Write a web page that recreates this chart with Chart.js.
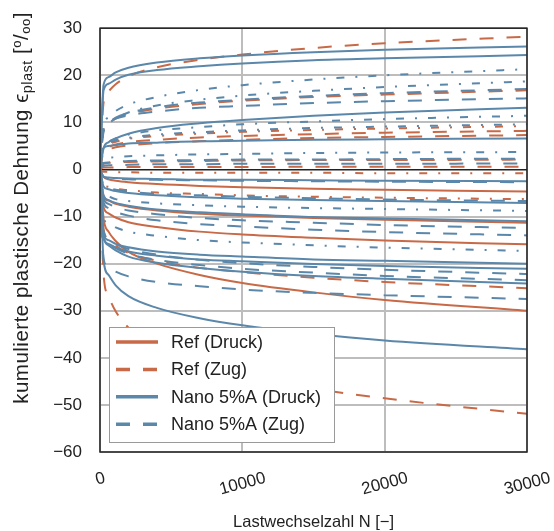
<!DOCTYPE html>
<html>
<head>
<meta charset="utf-8">
<script src="https://cdn.jsdelivr.net/npm/chart.js@4"></script>
<style>
  body { margin: 0; background: #fff; }
  canvas { display: block; }
</style>
</head>
<body>
<canvas id="dehnungChart" width="554" height="531"></canvas>
<script>
// Lastwechselzahl N (x-Werte)
const lastwechselzahl = [0, 250, 600, 1100, 2000, 4000, 7000, 10000, 15000, 20000, 30000];

// Ref (Druck) - orange, durchgezogen
const refDruck = [
    [0, -1.6, -2.1, -2.4, -2.7, -3.1, -3.5, -3.8, -4.1, -4.3, -4.7],
    [0, -5.7, -6.6, -7.3, -7.9, -8.7, -9.4, -9.8, -10.3, -10.7, -11.3],
    [0, -8.0, -9.3, -10.2, -11.2, -12.2, -13.2, -13.8, -14.5, -15.1, -15.9],
    [0, -10.4, -13.2, -15.2, -17.5, -20.0, -22.4, -24.1, -26.1, -27.7, -30.0]
];

// Ref (Zug) - orange, gestrichelt
const refZug = [
    [0, 14.2, 16.6, 18.1, 19.8, 21.7, 23.3, 24.4, 25.8, 26.8, 28.2],
    [0, 8.4, 9.9, 10.8, 11.8, 12.9, 13.9, 14.6, 15.4, 15.9, 16.8],
    [0, 4.1, 4.8, 5.3, 5.8, 6.3, 6.8, 7.1, 7.5, 7.8, 8.2],
    [0, 3.7, 4.3, 4.7, 5.1, 5.6, 6.0, 6.3, 6.7, 6.9, 7.3],
    [0, 1.2, 1.4, 1.5, 1.6, 1.7, 1.8, 1.9, 2.0, 2.0, 2.1],
    [0, 0.4, 0.4, 0.4, 0.5, 0.5, 0.5, 0.5, 0.6, 0.6, 0.6],
    [0, -12.7, -14.8, -16.2, -17.7, -19.4, -20.9, -21.8, -23.0, -23.9, -25.2],
    [0, -22.2, -26.9, -30.1, -33.6, -37.6, -41.1, -43.5, -46.5, -48.6, -51.9]
];

// weitere Ref-Kurven (strichpunktiert)
const refZugStrichpunkt = [
    [0, 4.6, 5.4, 5.9, 6.5, 7.1, 7.6, 8.0, 8.4, 8.7, 9.2],
    [0, -0.5, -0.5, -0.6, -0.6, -0.7, -0.7, -0.7, -0.7, -0.8, -0.8],
    [0, -3.2, -3.7, -4.1, -4.4, -4.9, -5.2, -5.5, -5.8, -6.0, -6.3]
];

// Nano 5%A (Druck) - blau, durchgezogen
const nanoDruck = [
    [0, 18.0, 19.6, 20.6, 21.6, 22.7, 23.6, 24.2, 24.9, 25.4, 26.1],
    [0, 16.8, 18.2, 19.1, 20.1, 21.1, 21.9, 22.5, 23.2, 23.6, 24.3],
    [0, 4.5, 5.8, 6.6, 7.6, 8.8, 9.8, 10.5, 11.4, 12.1, 13.1],
    [0, 4.6, 5.0, 5.2, 5.5, 5.7, 6.0, 6.1, 6.3, 6.4, 6.6],
    [0, -1.5, -1.7, -1.8, -1.9, -2.0, -2.2, -2.2, -2.3, -2.4, -2.5],
    [0, -3.6, -4.2, -4.6, -5.0, -5.5, -5.9, -6.2, -6.5, -6.7, -7.1],
    [0, -5.5, -6.5, -7.1, -7.7, -8.5, -9.1, -9.5, -10.1, -10.4, -11.0],
    [0, -13.8, -15.0, -15.8, -16.5, -17.4, -18.1, -18.5, -19.1, -19.4, -20.0],
    [0, -14.6, -15.8, -16.6, -17.4, -18.3, -19.1, -19.5, -20.1, -20.5, -21.1],
    [0, -14.3, -16.1, -17.2, -18.5, -19.8, -20.9, -21.7, -22.6, -23.2, -24.2],
    [0, -19.2, -22.4, -24.6, -26.9, -29.4, -31.6, -33.1, -34.9, -36.3, -38.2]
];

// Nano 5%A (Zug) - blau, gestrichelt
const nanoZug = [
    [0, 8.6, 10.0, 11.0, 12.0, 13.2, 14.2, 14.8, 15.6, 16.2, 17.1],
    [0, 8.9, 10.0, 10.8, 11.5, 12.3, 13.1, 13.5, 14.1, 14.5, 15.1],
    [0, 1.4, 1.5, 1.6, 1.8, 1.9, 2.0, 2.1, 2.1, 2.2, 2.3],
    [0, 0.8, 0.9, 0.9, 1.0, 1.1, 1.1, 1.2, 1.2, 1.2, 1.3],
    [0, -1.6, -1.8, -1.9, -2.1, -2.2, -2.3, -2.4, -2.5, -2.6, -2.7],
    [0, -3.4, -3.9, -4.3, -4.7, -5.2, -5.5, -5.8, -6.1, -6.4, -6.7],
    [0, -6.2, -7.3, -8.0, -8.7, -9.5, -10.3, -10.8, -11.3, -11.8, -12.4],
    [0, -7.0, -8.2, -9.0, -9.8, -10.8, -11.6, -12.1, -12.8, -13.3, -14.0],
    [0, -13.1, -14.7, -15.8, -16.9, -18.1, -19.2, -19.9, -20.7, -21.3, -22.2],
    [0, -13.8, -15.6, -16.7, -17.9, -19.2, -20.3, -21.1, -21.9, -22.6, -23.5],
    [0, -19.0, -20.7, -21.7, -22.7, -23.9, -24.8, -25.5, -26.2, -26.7, -27.5]
];

// weitere Nano-Kurven (strichpunktiert)
const nanoZugStrichpunkt = [
    [0, 9.1, 11.1, 12.4, 13.8, 15.4, 16.9, 17.9, 19.1, 20.0, 21.3],
    [0, 8.0, 9.7, 10.8, 12.1, 13.6, 14.8, 15.7, 16.7, 17.5, 18.7],
    [0, 4.9, 5.9, 6.6, 7.4, 8.3, 9.0, 9.6, 10.2, 10.7, 11.4],
    [0, 4.8, 5.6, 6.2, 6.7, 7.4, 7.9, 8.3, 8.8, 9.1, 9.6],
    [0, 2.2, 2.5, 2.6, 2.8, 3.0, 3.2, 3.3, 3.5, 3.6, 3.7],
    [0, -5.2, -5.8, -6.3, -6.7, -7.2, -7.6, -7.9, -8.2, -8.4, -8.8],
    [0, -10.2, -11.5, -12.3, -13.2, -14.1, -15.0, -15.5, -16.1, -16.6, -17.3]
];

const xTicks = [0, 10000, 20000, 30000];

const ORANGE = '#c86a47';
const BLUE = '#5b88aa';
const DASHED = [14, 13];
const DASHDOT = [8, 11, 2, 11];
const FONT = '"Liberation Sans", Arial, sans-serif';

function makeSets(curves, color, dash, order) {
    return curves.map(values => ({
        data: values.map((y, i) => ({ x: lastwechselzahl[i], y: y })),
        borderColor: color,
        borderWidth: 2,
        borderDash: dash,
        pointRadius: 0,
        fill: false,
        cubicInterpolationMode: 'monotone',
        order: order
    }));
}

const datasets = [
    ...makeSets(nanoDruck, BLUE, [], 0),
    ...makeSets(nanoZug, BLUE, DASHED, 0),
    ...makeSets(nanoZugStrichpunkt, BLUE, DASHDOT, 0),
    ...makeSets(refDruck, ORANGE, [], 1),
    ...makeSets(refZug, ORANGE, DASHED, 1),
    ...makeSets(refZugStrichpunkt, ORANGE, DASHDOT, 1)
];

const legendEntries = [
    { text: 'Ref (Druck)', color: ORANGE, dash: [] },
    { text: 'Ref (Zug)', color: ORANGE, dash: DASHED },
    { text: 'Nano 5%A (Druck)', color: BLUE, dash: [] },
    { text: 'Nano 5%A (Zug)', color: BLUE, dash: DASHED }
];

// y-Titel in Stuecken: Text, Schriftgroesse, Versatz quer zur Schrift
const yTitleParts = [
    { t: 'kumulierte plastische Dehnung \u03f5', size: 20.5, dy: 0 },
    { t: 'plast', size: 14.5, dy: 4 },
    { t: ' [', size: 20.5, dy: 0 },
    { t: 'o', size: 13, dy: -7 },
    { t: '/', size: 20.5, dy: 0 },
    { t: 'oo', size: 13, dy: 2 },
    { t: ']', size: 20.5, dy: 0 }
];

// Rahmen, Achsentitel, gedrehte x-Beschriftung und Legende
const decorPlugin = {
    id: 'decor',
    afterDraw(chart) {
        const ctx = chart.ctx;
        const area = chart.chartArea;
        const xScale = chart.scales.x;

        ctx.save();
        ctx.strokeStyle = '#222';
        ctx.lineWidth = 1.5;
        ctx.strokeRect(area.left, area.top, area.right - area.left, area.bottom - area.top);

        // x tick labels, 15 Grad gedreht
        ctx.fillStyle = '#222';
        ctx.font = '17px ' + FONT;
        ctx.textAlign = 'center';
        ctx.textBaseline = 'middle';
        const ang = 15 * Math.PI / 180;
        xTicks.forEach(v => {
            const label = String(v);
            const w = ctx.measureText(label).width;
            const h = 12;
            const boxH = w * Math.sin(ang) + h * Math.cos(ang);
            ctx.save();
            ctx.translate(xScale.getPixelForValue(v), area.bottom + 19 + boxH / 2);
            ctx.rotate(-ang);
            ctx.fillText(label, 0, 1);
            ctx.restore();
        });

        // x Titel
        ctx.font = '16.5px ' + FONT;
        ctx.fillText('Lastwechselzahl N [\u2212]', (area.left + area.right) / 2, 522);

        // y Titel mit Index
        ctx.textBaseline = 'alphabetic';
        ctx.textAlign = 'left';
        ctx.letterSpacing = '0.5px';
        let total = 0;
        yTitleParts.forEach(p => {
            ctx.font = p.size + 'px ' + FONT;
            p.w = ctx.measureText(p.t).width;
            total += p.w;
        });
        ctx.save();
        ctx.translate(28, 208);
        ctx.rotate(-Math.PI / 2);
        let px = -total / 2;
        yTitleParts.forEach(p => {
            ctx.font = p.size + 'px ' + FONT;
            ctx.fillText(p.t, px, p.dy);
            px += p.w;
        });
        ctx.restore();
        ctx.letterSpacing = '0px';

        // Legende
        const lx = area.left + 9;
        const ly = area.bottom - 125;
        ctx.textBaseline = 'middle';
        ctx.fillStyle = '#fff';
        ctx.fillRect(lx, ly, 225, 115);
        ctx.strokeStyle = '#9a9a9a';
        ctx.lineWidth = 1;
        ctx.strokeRect(lx + 0.5, ly + 0.5, 225, 115);
        ctx.font = '18px ' + FONT;
        legendEntries.forEach((e, i) => {
            const y = ly + 15 + i * 27.4;
            ctx.beginPath();
            ctx.strokeStyle = e.color;
            ctx.lineWidth = 3.5;
            ctx.setLineDash(e.dash);
            ctx.moveTo(lx + 7, y);
            ctx.lineTo(lx + 49, y);
            ctx.stroke();
            ctx.setLineDash([]);
            ctx.fillStyle = '#222';
            ctx.fillText(e.text, lx + 62, y + 1);
        });
        ctx.restore();
    }
};

const ctx = document.getElementById('dehnungChart').getContext('2d');
new Chart(ctx, {
    type: 'line',
    data: { datasets: datasets },
    options: {
        responsive: false,
        animation: false,
        layout: { padding: { left: 0, top: 23, right: 27, bottom: 79 } },
        plugins: {
            legend: { display: false },
            tooltip: { enabled: false }
        },
        scales: {
            x: {
                type: 'linear',
                min: 0,
                max: 30000,
                ticks: { display: false, stepSize: 10000 },
                grid: { color: '#bdbdbd', lineWidth: 2, drawTicks: false },
                border: { display: false },
                afterFit: scale => { scale.height = 0; }
            },
            y: {
                min: -60,
                max: 30,
                ticks: {
                    stepSize: 10,
                    padding: 18,
                    color: '#222',
                    font: { size: 17, family: FONT },
                    callback: v => v < 0 ? '\u2212' + Math.abs(v) : String(v)
                },
                grid: {
                    color: c => c.tick && c.tick.value === 0 ? '#222' : '#bdbdbd',
                    lineWidth: c => c.tick && c.tick.value === 0 ? 1.5 : 2,
                    drawTicks: false
                },
                border: { display: false },
                afterFit: scale => { scale.width = 100; }
            }
        }
    },
    plugins: [decorPlugin]
});
</script>
</body>
</html>
